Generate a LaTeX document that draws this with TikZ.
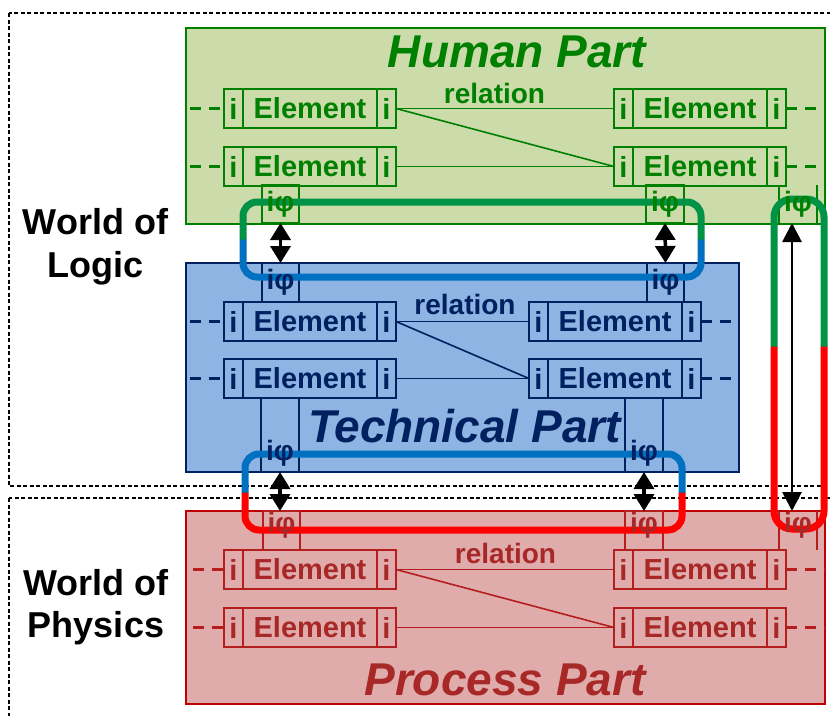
\documentclass[tikz,border=0pt]{standalone}
\usepackage{fontspec}
\setmainfont{Liberation Sans}
\usetikzlibrary{arrows.meta}
\definecolor{hT}{RGB}{0,128,0}
\definecolor{hL}{RGB}{0,128,0}
\definecolor{hB}{RGB}{0,128,0}
\definecolor{hF}{RGB}{204,219,170}
\definecolor{tT}{RGB}{0,32,96}
\definecolor{tL}{RGB}{0,32,96}
\definecolor{tB}{RGB}{0,32,96}
\definecolor{tF}{RGB}{142,180,227}
\definecolor{pT}{RGB}{168,40,40}
\definecolor{pL}{RGB}{180,30,30}
\definecolor{pB}{RGB}{192,0,0}
\definecolor{pF}{RGB}{224,171,171}
\definecolor{gPipe}{RGB}{0,146,69}
\definecolor{bPipe}{RGB}{0,112,192}
\definecolor{rPipe}{RGB}{255,0,0}
\tikzset{
  cell/.style={draw=#1L, text=#1T, line width=1.2pt, minimum height=39pt, inner sep=0pt, outer sep=0pt,
    font=\fontsize{29}{29}\selectfont\bfseries, anchor=north west},
  portbox/.style={draw=#1L, line width=1.2pt, inner sep=0pt, outer sep=0pt, anchor=north west},
  portlbl/.style={text=#1T, font=\fontsize{28}{28}\selectfont\bfseries, inner sep=0pt},
  partbox/.style={draw=#1B, fill=#1F, line width=2pt, inner sep=0pt, outer sep=0pt, anchor=north west},
  relline/.style={draw=#1L, line width=1.6pt},
  stubline/.style={draw=#1L, line width=2.2pt, dash pattern=on 11pt off 8pt},
  reltext/.style={text=#1T, font=\fontsize{28}{28}\selectfont\bfseries, inner sep=0pt},
  ttl/.style={text=#1T, font=\fontsize{46}{46}\selectfont\bfseries\itshape, inner sep=0pt, anchor=base},
  worldbox/.style={draw=black, line width=2pt, dash pattern=on 4pt off 2.5pt},
  worldtext/.style={font=\fontsize{36}{36}\selectfont\bfseries, inner sep=0pt, anchor=base},
  pipestyle/.style={line width=7pt, rounded corners=14pt},
  dblarrow/.style={line width=3.5pt, {Triangle[length=17pt,width=20pt]}-{Triangle[length=17pt,width=20pt]}},
  longarrow/.style={line width=2.8pt, {Triangle[length=19pt,width=19pt]}-{Triangle[length=19pt,width=19pt]}},
}
\newcommand{\mkelem}[5]{%
  \node[cell=#4, minimum width=19pt] (#1-l) at (#2,#3) {\raisebox{-1.5pt}{i}};
  \node[cell=#4, minimum width=134pt] (#1-m) at (#1-l.north east) {\raisebox{-1.5pt}{Element}};
  \node[cell=#4, minimum width=19pt] (#1-r) at (#1-m.north east) {#5};
}
\begin{document}
\begin{tikzpicture}[x=1pt,y=-1pt]
\useasboundingbox (0,0) rectangle (830,715);
\clip (0,0) rectangle (830,715);

% worlds
\draw[worldbox] (9,13) rectangle (860,486);
\draw[worldbox] (9,498) rectangle (860,760);
\node[worldtext] (wl1) at (95.5,234) {World of};
\node[worldtext] (wl2) at (95.5,277) {Logic};
\node[worldtext] (wp1) at (96,595) {World of};
\node[worldtext] (wp2) at (96,637) {Physics};

% parts
\node[partbox=h, minimum width=639pt, minimum height=196pt] (human) at (186,28) {};
\node[partbox=t, minimum width=553pt, minimum height=209pt] (tech) at (186,263) {};
\node[partbox=p, minimum width=639pt, minimum height=193pt] (proc) at (186,511) {};

% port boxes
\node[portbox=h, minimum width=37pt, minimum height=38pt] (hpa) at (262,185) {};
\node[portbox=h, minimum width=38pt, minimum height=38pt] (hpb) at (646,185) {};
\node[inner sep=0pt, outer sep=0pt, anchor=north west, minimum width=38pt, minimum height=38pt] (hpR) at (779,185) {};
\draw[hL, line width=1.2pt] (hpR.north west) -- (hpR.south west) (hpR.north east) -- (hpR.south east);
\node[portbox=t, minimum width=37pt, minimum height=39pt] (tpa) at (262,263) {};
\node[portbox=t, minimum width=37pt, minimum height=39pt] (tpb) at (647,263) {};
\node[portbox=t, minimum width=38pt, minimum height=74pt] (tpc) at (261,398) {};
\node[portbox=t, minimum width=38pt, minimum height=74pt] (tpd) at (625,398) {};
\node[portbox=p, minimum width=37pt, minimum height=39pt] (ppa) at (263,511) {};
\node[portbox=p, minimum width=38pt, minimum height=39pt] (ppb) at (625,511) {};
\node[inner sep=0pt, outer sep=0pt, anchor=north west, minimum width=38pt, minimum height=39pt] (ppR) at (779,511) {};
\draw[pL, line width=1.2pt] (ppR.north west) -- (ppR.south west) (ppR.north east) -- (ppR.south east);

% elements
\mkelem{h1}{224}{89}{h}{\raisebox{-1.5pt}{i}}
\mkelem{h2}{224}{147}{h}{\raisebox{-1.5pt}{i}}
\mkelem{h3}{614}{89}{h}{\raisebox{-1.5pt}{i}}
\mkelem{h4}{614}{147}{h}{\raisebox{-1.5pt}{i}}
\mkelem{t1}{224}{302}{t}{\raisebox{-4pt}{i}}
\mkelem{t2}{224}{359}{t}{\raisebox{-1.5pt}{i}}
\mkelem{t3}{529}{302}{t}{\raisebox{-1.5pt}{i}}
\mkelem{t4}{529}{359}{t}{\raisebox{-1.5pt}{i}}
\mkelem{p1}{224}{550}{p}{\raisebox{-1.5pt}{i}}
\mkelem{p2}{224}{608}{p}{\raisebox{-1.5pt}{i}}
\mkelem{p3}{614}{550}{p}{\raisebox{-1.5pt}{i}}
\mkelem{p4}{614}{608}{p}{\raisebox{-1.5pt}{i}}

% relations
\draw[relline=h] (h1-r.east) -- (h3-l.west);
\draw[relline=h] (h1-r.east) -- (h4-l.west);
\draw[relline=h] (h2-r.east) -- (h4-l.west);
\node[reltext=h] (hrel) at (494.5,93) {relation};
\draw[relline=t] (t1-r.east) -- (t3-l.west);
\draw[relline=t] (t1-r.east) -- (t4-l.west);
\draw[relline=t] (t2-r.east) -- (t4-l.west);
\node[reltext=t] (trel) at (465,304) {relation};
\draw[relline=p] (p1-r.east) -- (p3-l.west);
\draw[relline=p] (p1-r.east) -- (p4-l.west);
\draw[relline=p] (p2-r.east) -- (p4-l.west);
\node[reltext=p] (prel) at (505.5,553) {relation};

% stubs
\foreach \e in {h1,h2}{\draw[stubline=h] ([xshift=-34pt]\e-l.west) -- (\e-l.west);}
\foreach \e in {t1,t2}{\draw[stubline=t] ([xshift=-34pt]\e-l.west) -- (\e-l.west);}
\foreach \e in {h3,h4}{\draw[stubline=h] (\e-r.east) -- ([xshift=39pt]\e-r.east);}
\foreach \e in {t3,t4}{\draw[stubline=t] (\e-r.east) -- ([xshift=38pt]\e-r.east);}
\foreach \e in {p1,p2}{\draw[stubline=p] ([xshift=-31pt]\e-l.west) -- (\e-l.west);}
\foreach \e in {p3,p4}{\draw[stubline=p] (\e-r.east) -- ([xshift=39pt]\e-r.east);}

% titles
\node[ttl=h] (htitle) at (517,67) {Human Part};
\node[ttl=t] (ttitle) at (464.5,442) {Technical Part};
\node[ttl=p] (ptitle) at (505,695) {Process Part};

% pipes
\draw[pipestyle, gPipe] (243,240) -- (243,202) -- (701,202) -- (701,240);
\draw[pipestyle, bPipe] (243,239.5) -- (243,277) -- (701,277) -- (701,239.5);
\draw[pipestyle, bPipe] (245,493) -- (245,454) -- (682,454) -- (682,493);
\draw[pipestyle, rPipe] (245,492.5) -- (245,530) -- (682,530) -- (682,492.5);
\draw[pipestyle, rounded corners=18pt, gPipe] (774,347) -- (774,199) -- (824,199) -- (824,347);
\draw[pipestyle, rounded corners=18pt, rPipe] (774,346.5) -- (774,529) -- (824,529) -- (824,346.5);

% port labels
\node[portlbl=h] (hla) at (hpa.center) {iφ};
\node[portlbl=h] (hlb) at (hpb.center) {iφ};
\node[portlbl=h] (hlR) at (hpR.center) {iφ};
\node[portlbl=t] (tla) at (tpa.center) {iφ};
\node[portlbl=t] (tlb) at (tpb.center) {iφ};
\node[portlbl=t] (tlc) at ([yshift=19pt]tpc.south) {iφ};
\node[portlbl=t] (tld) at ([yshift=19pt]tpd.south) {iφ};
\node[portlbl=p] (pla) at ([yshift=5pt]ppa.center) {iφ};
\node[portlbl=p] (plb) at ([yshift=5pt]ppb.center) {iφ};
\node[portlbl=p] (plR) at ([yshift=5pt]ppR.center) {iφ};

% arrows
\draw[dblarrow] (hpa.south) -- (tpa.north);
\draw[dblarrow] (hpb.south) -- (tpb.north);
\draw[dblarrow] (tpc.south) -- (tpc.south |- ppa.north);
\draw[dblarrow] (tpd.south) -- (ppb.north);
\draw[longarrow] ([xshift=-6pt]hpR.south) -- ([xshift=-6pt]ppR.north);
\end{tikzpicture}
\end{document}
